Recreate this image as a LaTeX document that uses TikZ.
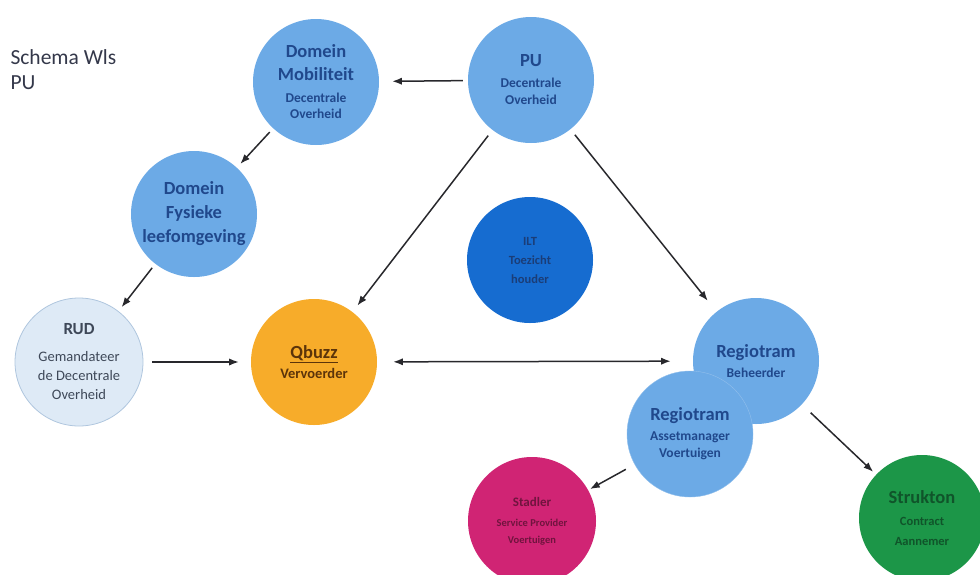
\documentclass[tikz,border=0pt]{standalone}
\usepackage{fontspec}
\setmainfont{Carlito}
\usetikzlibrary{arrows.meta}

\definecolor{lichtblauw}{RGB}{108,170,230}
\definecolor{donkerblauw}{RGB}{22,108,208}
\definecolor{blauwtekst}{RGB}{32,72,140}
\definecolor{rudvul}{RGB}{222,234,246}
\definecolor{rudrand}{RGB}{175,198,222}
\definecolor{rudtekst}{RGB}{62,72,88}
\definecolor{oranje}{RGB}{247,172,42}
\definecolor{oranjetekst}{RGB}{92,52,10}
\definecolor{magenta}{RGB}{208,36,116}
\definecolor{magentatekst}{RGB}{112,20,62}
\definecolor{groen}{RGB}{28,150,72}
\definecolor{groentekst}{RGB}{16,84,42}
\definecolor{pijlgrijs}{RGB}{40,40,44}
\definecolor{titelgrijs}{RGB}{52,56,74}

\newcommand{\kop}{\fontsize{18.5}{22}\selectfont}
\newcommand{\klein}{\fontsize{13}{15}\selectfont}

\begin{document}
\begin{tikzpicture}[
		x=1pt, y=-1pt,
		actor/.style={circle, minimum size=126pt, inner sep=0pt, align=center, fill=lichtblauw, text=blauwtekst,
			font=\fontsize{13.5}{17}\selectfont\bfseries},
		link/.style={-Latex, line width=1.5pt, draw=pijlgrijs, shorten >=8pt, shorten <=7pt},
	]
		\useasboundingbox (0,0) rectangle (980,574);

		\node (titel) [anchor=north west, align=left, text=titelgrijs, font=\fontsize{21.5}{25}\selectfont] at (7,46) {Schema Wls\\PU};

		\node (pu) [actor] at (531,80) {{\kop PU}\\[4pt]Decentrale\\Overheid};
		\node (dommob) [actor] at (316,82) {{\kop Domein}\\[6pt]{\kop Mobiliteit}\\[5pt]Decentrale\\[-1pt]Overheid};
		\node (domfys) [actor] at (194,214) {{\kop Domein}\\[7pt]{\kop Fysieke}\\[7pt]{\kop leefomgeving}};
		\node (rud) [actor, fill=rudvul, draw=rudrand, thick, text=rudtekst, minimum size=128pt, font=\fontsize{14.5}{19}\selectfont] at (79,362)
			{{\fontsize{17}{20}\selectfont\bfseries RUD}\\[8pt]Gemandateer\\de Decentrale\\Overheid};
		\node (qbuzz) [actor, fill=oranje, text=oranjetekst, font=\fontsize{14.5}{20}\selectfont\bfseries] at (314,362) {{\kop\underline{Qbuzz}}\\Vervoerder};
		\node (ilt) [actor, fill=donkerblauw, text=blauwtekst!85!black, font=\fontsize{12.5}{19}\selectfont\bfseries] at (530,260) {ILT\\Toezicht\\houder};
		\node (beheer) [actor] at (756,361) {{\kop Regiotram}\\[3pt]Beheerder};
		\node (asset) [actor, draw=lichtblauw!75!white, thin] at (690,434) {{\kop Regiotram}\\[3pt]Assetmanager\\Voertuigen};
		\node (stadler) [actor, fill=magenta, text=magentatekst, minimum size=128pt, font=\fontsize{10.5}{17}\selectfont\bfseries] at (532,521) {{\klein Stadler}\\[3pt]Service Provider\\Voertuigen};
		\node (strukton) [actor, fill=groen, text=groentekst, font=\fontsize{12.5}{20}\selectfont\bfseries] at (922,518) {{\kop Strukton}\\[2pt]Contract\\Aannemer};

		\draw[link, shorten <=5pt, shorten >=13pt] (pu) -- (dommob);
		\draw[link, shorten <=5pt, shorten >=5pt] (dommob) -- (domfys);
		\draw[link, shorten <=5pt, shorten >=5pt] (domfys) -- (rud);
		\draw[link, shorten <=9pt, shorten >=12pt] (rud) -- (qbuzz);
		\draw[link, Latex-Latex, shorten <=16pt, shorten >=22pt] (qbuzz) -- (beheer);
		\draw[link] (pu) -- (qbuzz);
		\draw[link, shorten >=14pt] (pu) -- (beheer);
		\draw[link, shorten <=10pt, shorten >=2pt] (asset) -- (stadler);
		\draw[link, shorten <=12pt, shorten >=4pt] (beheer) -- (strukton);
	\end{tikzpicture}
\end{document}
